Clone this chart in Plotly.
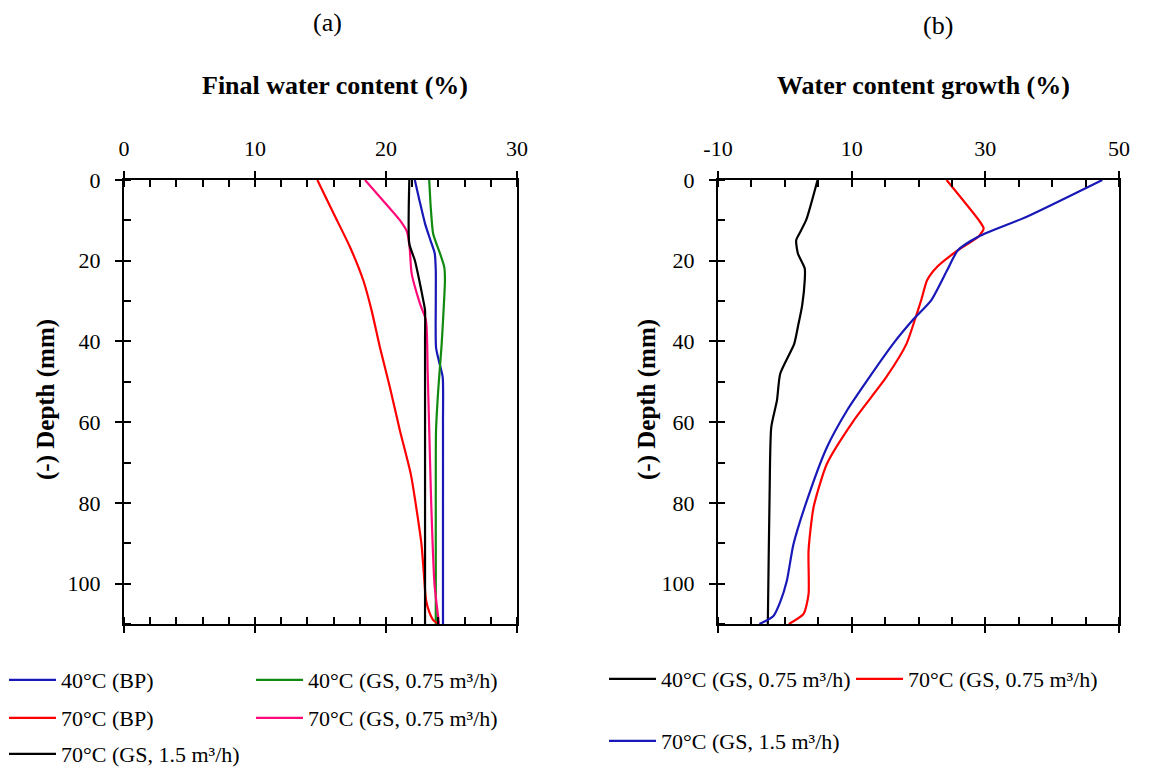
import plotly.graph_objects as go

# ---------------- data: panel (a) final water content (%) ----------------
a_blue_depth = [0, 5, 10.8, 15, 18.2, 22.4, 30, 41.5, 45, 48.9, 60, 80, 100, 110]
a_blue_val = [22.2, 22.55, 22.98, 23.4, 23.72, 23.8, 23.8, 23.82, 24.05, 24.33, 24.35, 24.35, 24.35, 24.35]

a_green_depth = [0, 7, 13.3, 18, 21.6, 24.9, 32, 40.6, 51.4, 62, 75, 90, 110]
a_green_val = [23.3, 23.42, 23.6, 24.1, 24.45, 24.5, 24.4, 24.25, 24.0, 23.82, 23.8, 23.8, 23.8]

a_red_depth = [0, 8.3, 16.6, 24.9, 32.3, 41.5, 51.4, 62.2, 73, 90, 98, 104, 107, 109, 110]
a_red_val = [14.76, 16.0, 17.25, 18.27, 18.9, 19.54, 20.3, 21.07, 21.9, 22.7, 22.9, 23.05, 23.3, 23.6, 24.0]

a_pink_depth = [0, 5, 10, 12.8, 16.6, 23.2, 30.7, 34.8, 47.3, 62, 80, 100, 110]
a_pink_val = [18.4, 19.75, 21.07, 21.6, 21.8, 21.96, 22.6, 23.05, 23.18, 23.3, 23.45, 23.7, 24.05]

a_black_depth = [0, 15.8, 19.9, 25, 29.9, 32.3, 40, 110]
a_black_val = [21.78, 21.78, 22.2, 22.55, 22.85, 22.98, 22.98, 22.98]

# ---------------- data: panel (b) water content growth (%) ----------------
b_black_depth = [0, 9.9, 13.2, 14.9, 18.2, 21.9, 24.8, 31, 36.4, 40.6, 48, 54.6, 61.2, 77.8, 108, 110]
b_black_val = [4.9, 3.2, 2.2, 1.7, 1.95, 2.98, 2.98, 2.6, 1.95, 1.4, -0.69, -1.18, -2.03, -2.28, -2.53, -2.55]

b_red_depth = [0, 9.9, 12, 14, 17.4, 21.5, 24.8, 29.8, 34.4, 40.6, 48.8, 59.6, 70.3, 81.1, 91.8, 102.6, 107.5, 110]
b_red_val = [24.2, 29.0, 29.75, 29.0, 25.9, 22.8, 21.3, 20.4, 19.5, 18.2, 15.2, 10.3, 6.3, 4.3, 3.55, 3.55, 2.8, 0.6]

b_blue_depth = [0, 9.1, 14.0, 17.4, 22.3, 29.8, 34.4, 40.6, 49.7, 57.1, 66.2, 77, 90.2, 99.3, 104.6, 108, 110]
b_blue_val = [47.5, 36.2, 29.0, 25.9, 24.3, 21.9, 19.3, 16.2, 12.3, 9.3, 6.3, 3.8, 1.3, 0.3, -0.7, -1.7, -3.8]

a_xticks = [0, 10, 20, 30]
b_xticks = [-10, 10, 30, 50]
depth_ticks = [0, 20, 40, 60, 80, 100]

BLUE = "#1818b8"
GREEN = "#108a10"
RED = "#ff0000"
PINK = "#ff0a78"
BLACK = "#000000"

FONT = "Times New Roman, Liberation Serif, serif"
OFF = 8                      # page body margin of the written html
W, H = 1158 - OFF, 767 - OFF

def px(xp):
    return (xp - OFF) / W

def py(yp):
    return 1 - (yp - OFF) / H

fig = go.Figure()

def add(xv, yv, color, name, xa, ya, legend):
    fig.add_trace(go.Scatter(
        x=xv, y=yv, mode="lines", name=name,
        line=dict(color=color, width=2.2, shape="spline", smoothing=0.6),
        xaxis=xa, yaxis=ya, legend=legend, hoverinfo="skip"))

# panel (a)
add(a_blue_val, a_blue_depth, BLUE, "40°C (BP)", "x", "y", "legend")
add(a_green_val, a_green_depth, GREEN, "40°C (GS, 0.75 m³/h)", "x", "y", "legend2")
add(a_red_val, a_red_depth, RED, "70°C (BP)", "x", "y", "legend3")
add(a_pink_val, a_pink_depth, PINK, "70°C (GS, 0.75 m³/h)", "x", "y", "legend4")
add(a_black_val, a_black_depth, BLACK, "70°C (GS, 1.5 m³/h)", "x", "y", "legend5")
# panel (b)
add(b_black_val, b_black_depth, BLACK, "40°C (GS, 0.75 m³/h)", "x2", "y2", "legend6")
add(b_red_val, b_red_depth, RED, "70°C (GS, 0.75 m³/h)", "x2", "y2", "legend7")
add(b_blue_val, b_blue_depth, BLUE, "70°C (GS, 1.5 m³/h)", "x2", "y2", "legend8")

# empty helper traces for overlay tick axes (inner halves of crossing major ticks)
for xa, ya in [("x3", "y3"), ("x4", "y4")]:
    fig.add_trace(go.Scatter(x=[], y=[], xaxis=xa, yaxis=ya, showlegend=False, hoverinfo="skip"))

dom_a = [px(124), px(517)]
dom_b = [px(718), px(1119)]
dom_y = [py(624), py(180)]

tickfont = dict(family=FONT, size=22, color="black")

def xmain(dom, rng, ticks, minor_dtick, anchor):
    return dict(domain=dom, range=rng, side="top", anchor=anchor,
                tickmode="array", tickvals=ticks, ticktext=[str(t) for t in ticks],
                ticks="outside", ticklen=7, tickwidth=2, tickcolor="black",
                minor=dict(tick0=rng[0], dtick=minor_dtick, ticks="inside", ticklen=7,
                           tickwidth=1.5, tickcolor="black", showgrid=False),
                showline=True, linewidth=2, linecolor="black", mirror="allticks",
                showgrid=False, zeroline=False, tickfont=tickfont, ticklabelstandoff=6)

def ymain(anchor):
    return dict(domain=dom_y, range=[110, 0], anchor=anchor,
                tickmode="array", tickvals=depth_ticks, ticktext=[str(t) for t in depth_ticks],
                ticks="outside", ticklen=7, tickwidth=2, tickcolor="black",
                minor=dict(tick0=0, dtick=10, ticks="inside", ticklen=7,
                           tickwidth=1.5, tickcolor="black", showgrid=False),
                showline=True, linewidth=2, linecolor="black", mirror=True,
                showgrid=False, zeroline=False, tickfont=tickfont, ticklabelstandoff=10)

def xover(over, rng, ticks, anchor):
    return dict(overlaying=over, range=rng, side="top", anchor=anchor,
                tickmode="array", tickvals=ticks, ticks="inside", ticklen=7, tickwidth=2,
                tickcolor="black", showticklabels=False, showline=False,
                mirror="allticks", showgrid=False, zeroline=False)

def yover(over, anchor):
    return dict(overlaying=over, range=[110, 0], anchor=anchor,
                tickmode="array", tickvals=depth_ticks, ticks="inside", ticklen=7, tickwidth=2,
                tickcolor="black", showticklabels=False, showline=False,
                showgrid=False, zeroline=False)

legfont = dict(family=FONT, size=22, color="black")

def leg(xp, yp):
    return dict(x=px(xp), y=py(yp), xanchor="left", yanchor="middle",
                orientation="h", itemwidth=47, font=legfont, bgcolor="rgba(0,0,0,0)",
                itemclick=False, itemdoubleclick=False)

fig.update_layout(
    width=W, height=H,
    margin=dict(l=0, r=0, t=0, b=0, autoexpand=False),
    paper_bgcolor="white", plot_bgcolor="white",
    font=dict(family=FONT, color="black"),
    xaxis=xmain(dom_a, [0, 30], a_xticks, 2, "y"),
    yaxis=ymain("x"),
    xaxis2=xmain(dom_b, [-10, 50], b_xticks, 5, "y2"),
    yaxis2=ymain("x2"),
    xaxis3=xover("x", [0, 30], a_xticks, "y"),
    yaxis3=yover("y", "x"),
    xaxis4=xover("x2", [-10, 50], b_xticks, "y2"),
    yaxis4=yover("y2", "x2"),
    legend=leg(4, 680),
    legend2=leg(251, 680),
    legend3=leg(4, 718),
    legend4=leg(251, 718),
    legend5=leg(4, 754),
    legend6=leg(604, 679),
    legend7=leg(851, 679),
    legend8=leg(604, 741),
    showlegend=True,
)

ann = [
    dict(text="(a)", x=px(327), y=py(23), font=dict(family=FONT, size=26)),
    dict(text="(b)", x=px(938), y=py(25), font=dict(family=FONT, size=26)),
    dict(text="<b>Final water content (%)</b>", x=px(335), y=py(86), font=dict(family=FONT, size=26)),
    dict(text="<b>Water content growth (%)</b>", x=px(923), y=py(85), font=dict(family=FONT, size=26)),
    dict(text="<b>(-) Depth (mm)</b>", x=px(46), y=py(400), textangle=-90, font=dict(family=FONT, size=25)),
    dict(text="<b>(-) Depth (mm)</b>", x=px(647), y=py(400), textangle=-90, font=dict(family=FONT, size=25)),
]
for a in ann:
    fig.add_annotation(xref="paper", yref="paper", showarrow=False,
                       xanchor="center", yanchor="middle", **a)

fig.write_html("out.html")
